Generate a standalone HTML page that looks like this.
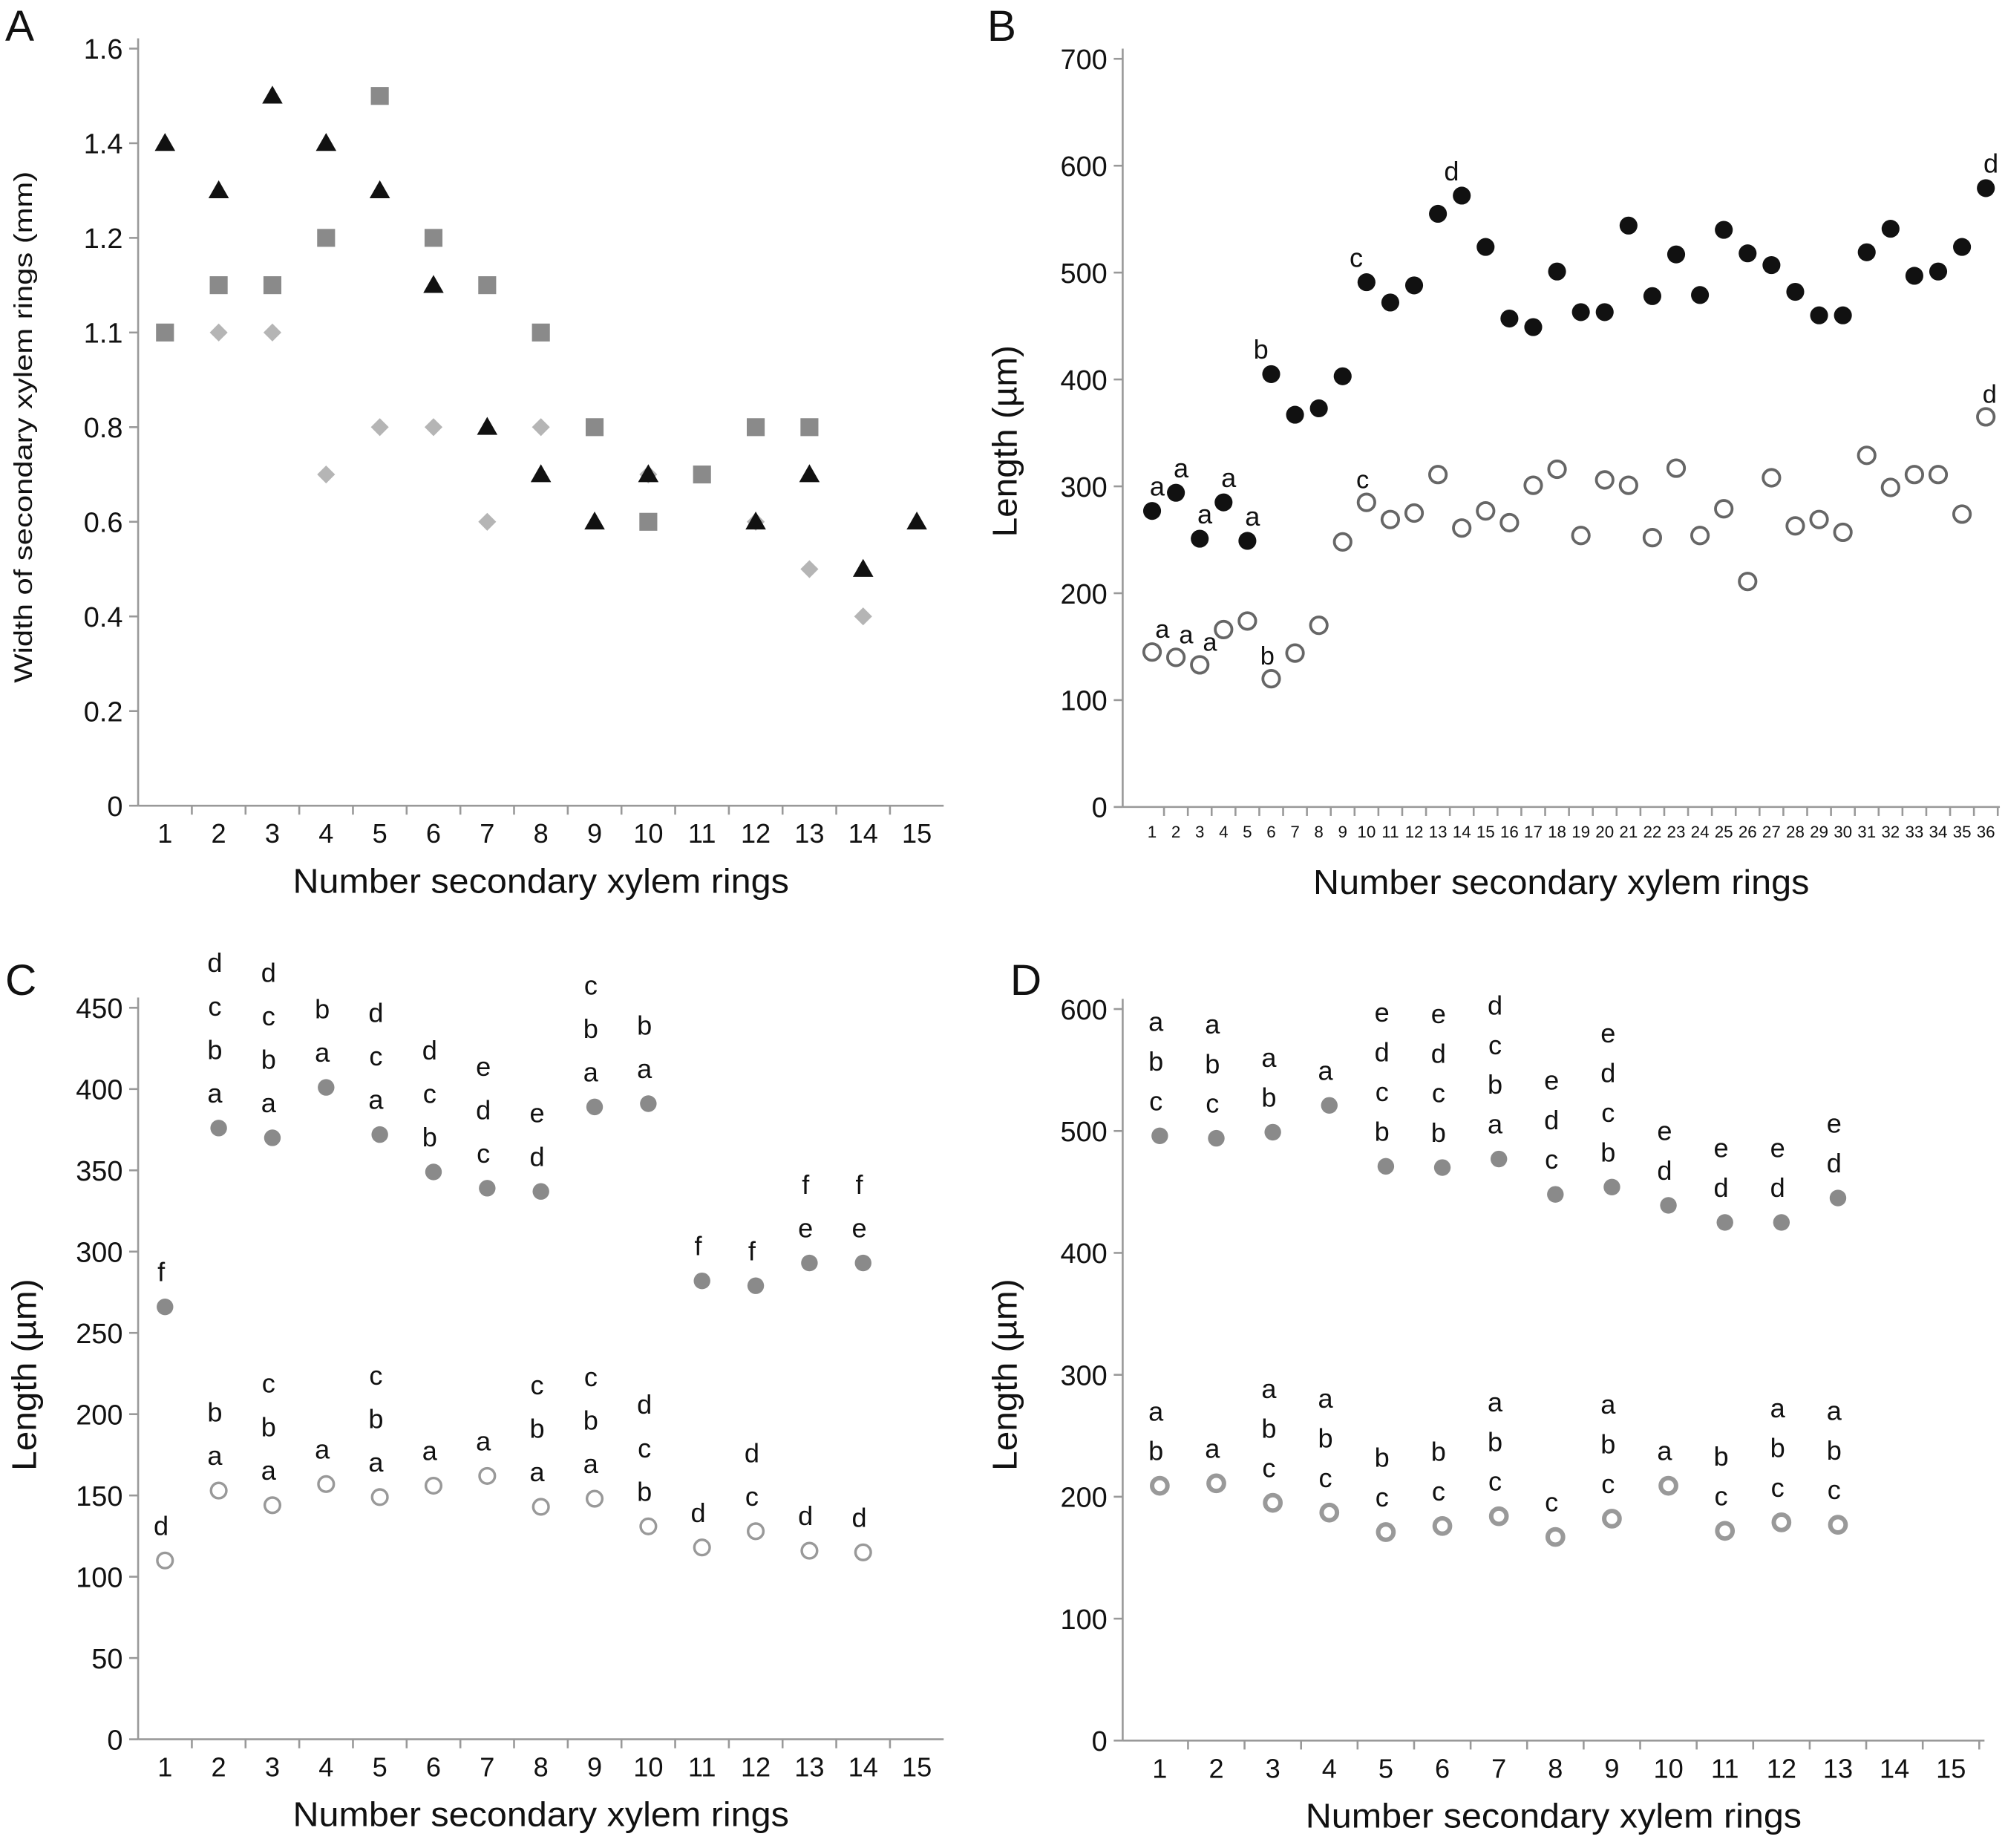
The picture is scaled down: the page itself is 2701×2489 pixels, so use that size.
<!DOCTYPE html>
<html><head><meta charset="utf-8">
<style>
html,body{margin:0;padding:0;background:#fff;}
svg{display:block;}
text{font-family:"Liberation Sans",Arial,sans-serif;}
</style></head>
<body>
<svg id="chart" width="2701" height="2489" viewBox="0 0 1568 1445" xmlns="http://www.w3.org/2000/svg"></svg>
<script>
// ---------- Panel A data ----------
const aCats = [1,2,3,4,5,6,7,8,9,10,11,12,13,14,15];
const aTickVals = [0,0.2,0.4,0.6,0.8,1.0,1.2,1.4,1.6];
const aTickLabels = ["0","0.2","0.4","0.6","0.8","1.1","1.2","1.4","1.6"];
const aTriangles = [1.4,1.3,1.5,1.4,1.3,1.1,0.8,0.7,0.6,0.7,null,0.6,0.7,0.5,0.6];
const aSquares = [1.0,1.1,1.1,1.2,1.5,1.2,1.1,1.0,0.8,0.6,0.7,0.8,0.8,null,null];
const aDiamonds = [null,1.0,1.0,0.7,0.8,0.8,0.6,0.8,null,0.7,null,0.6,0.5,0.4,null];
// ---------- Panel B data ----------
const bCats = Array.from({length:36},(_,i)=>i+1);
const bTicks = [0,100,200,300,400,500,600,700];
const bFilled = [277,294,251,285,249,405,367,373,403,491,472,488,555,572,524,457,449,501,463,463,544,478,517,479,540,518,507,482,460,460,519,541,497,501,524,579];
const bOpen = [145,140,133,166,174,120,144,170,248,285,269,275,311,261,277,266,301,316,254,306,301,252,317,254,279,211,308,263,269,257,329,299,311,311,274,365];
const bFilledLetters = {1:"a",2:"a",3:"a",4:"a",5:"a",6:"b",10:"c",14:"d",36:"d"};
const bOpenLetters = {1:"a",2:"a",3:"a",6:"b",10:"c",36:"d"};
// ---------- Panel C data ----------
const cCats = [1,2,3,4,5,6,7,8,9,10,11,12,13,14,15];
const cTicks = [0,50,100,150,200,250,300,350,400,450];
const cFilled = [266,376,370,401,372,349,339,337,389,391,282,279,293,293];
const cOpen = [110,153,144,157,149,156,162,143,148,131,118,128,116,115];
const cFilledLetters = [["f"],["d","c","b","a"],["d","c","b","a"],["b","a"],["d","c","a"],["d","c","b"],["e","d","c"],["e","d"],["c","b","a"],["b","a"],["f"],["f"],["f","e"],["f","e"]];
const cOpenLetters = [["d"],["b","a"],["c","b","a"],["a"],["c","b","a"],["a"],["a"],["c","b","a"],["c","b","a"],["d","c","b"],["d"],["d","c"],["d"],["d"]];
// ---------- Panel D data ----------
const dCats = [1,2,3,4,5,6,7,8,9,10,11,12,13,14,15];
const dTicks = [0,100,200,300,400,500,600];
const dFilled = [496,494,499,521,471,470,477,448,454,439,425,425,445];
const dOpen = [209,211,195,187,171,176,184,167,182,209,172,179,177];
const dFilledLetters = [["a","b","c"],["a","b","c"],["a","b"],["a"],["e","d","c","b"],["e","d","c","b"],["d","c","b","a"],["e","d","c"],["e","d","c","b"],["e","d"],["e","d"],["e","d"],["e","d"]];
const dOpenLetters = [["a","b"],["a"],["a","b","c"],["a","b","c"],["b","c"],["b","c"],["a","b","c"],["c"],["a","b","c"],["a"],["b","c"],["a","b","c"],["a","b","c"]];

const NS="http://www.w3.org/2000/svg";
const svg=document.getElementById('chart');
function mk(tag,attrs,parent){const e=document.createElementNS(NS,tag);for(const k in attrs)e.setAttribute(k,attrs[k]);(parent||svg).appendChild(e);return e;}
function txt(s,x,y,size,parent,anchor){const t=mk('text',{x:x,y:y,'font-size':size,'text-anchor':anchor||'middle',fill:'#111'},parent);t.textContent=s;return t;}

function panel(cfg){
  const g=mk('g',{});
  
  
  const yS=v=>cfg.y0-(v-cfg.vmin)/(cfg.vmax-cfg.vmin)*(cfg.y0-cfg.y1);
  const xS=c=>cfg.xFirst+(c-1)*cfg.xStep;
  const ax=mk('line',{x1:cfg.ax,y1:cfg.y1-8,x2:cfg.ax,y2:cfg.y0,stroke:'#999','stroke-width':1.5},g);
  
  
  const bx=mk('line',{x1:cfg.ax,y1:cfg.y0,x2:cfg.axEnd,y2:cfg.y0,stroke:'#999','stroke-width':1.5},g);
  
  
  cfg.ticks.forEach((v,i)=>{
    const y=yS(v);
    mk('line',{x1:cfg.ax-7,y1:y,x2:cfg.ax,y2:y,stroke:'#999','stroke-width':1.5},g);
    const t=txt(cfg.tickLabels?cfg.tickLabels[i]:String(v),cfg.ax-12,y+8,22,g,'end');
    
    
  });
  cfg.cats.forEach(c=>{
    const x=xS(c);
    const t=txt(String(c),x,cfg.y0+(cfg.xFont>15?29:24),cfg.xFont,g);
    
    
    const tx=x+cfg.xStep/2;
    if(tx<cfg.axEnd) mk('line',{x1:tx,y1:cfg.y0,x2:tx,y2:cfg.y0+7,stroke:'#999','stroke-width':1.5},g);
  });
  const xt=txt('Number secondary xylem rings',(cfg.ax+cfg.axEnd)/2,cfg.y0+68,27,g);
  xt.setAttribute('textLength','388');
  xt.setAttribute('lengthAdjust','spacingAndGlyphs');
  
  
  const yt=txt(cfg.ytitle,0,0,cfg.ytFont,g);
  yt.setAttribute('transform',`translate(${cfg.ytX},${cfg.ytY}) rotate(-90)`);
  yt.setAttribute('textLength',String(cfg.ytLen));
  yt.setAttribute('lengthAdjust','spacingAndGlyphs');
  
  
  const pl=txt(cfg.letter,cfg.lx,cfg.ly,34,g,'start');
  
  
  return {g,xS,yS};
}

// Panel A
(function(){
  const p=panel({name:'panel-a',ax:108,axEnd:738,y0:630,y1:38,vmin:0,vmax:1.6,ticks:aTickVals,tickLabels:aTickLabels,cats:aCats,xFirst:129,xStep:42,xFont:21,ytitle:'Width of secondary xylem rings (mm)',ytFont:20,ytX:25,ytY:334,ytLen:400,letter:'A',lx:4,ly:32});
  aSquares.forEach((v,i)=>{if(v==null)return;const x=p.xS(aCats[i]),y=p.yS(v);
    const r=mk('rect',{x:x-7,y:y-7,width:14,height:14,fill:'#8a8a8a'},p.g);
    
    });
  aDiamonds.forEach((v,i)=>{if(v==null)return;const x=p.xS(aCats[i]),y=p.yS(v);
    const r=mk('polygon',{points:`${x},${y-7} ${x+7},${y} ${x},${y+7} ${x-7},${y}`,fill:'#b5b5b5'},p.g);
    
    });
  aTriangles.forEach((v,i)=>{if(v==null)return;const x=p.xS(aCats[i]),y=p.yS(v);
    const r=mk('polygon',{points:`${x},${y-8} ${x+8},${y+6} ${x-8},${y+6}`,fill:'#111'},p.g);
    
    });
})();

// Panel B
(function(){
  const p=panel({name:'panel-b',ax:878,axEnd:1564,y0:631,y1:46,vmin:0,vmax:700,ticks:bTicks,cats:bCats,xFirst:901,xStep:18.63,xFont:13,ytitle:'Length (µm)',ytFont:27,ytX:795,ytY:345,ytLen:150,letter:'B',lx:772,ly:32});
  bOpen.forEach((v,i)=>{const x=p.xS(bCats[i]),y=p.yS(v);
    const c=mk('circle',{cx:x,cy:y,r:6.5,fill:'#fff',stroke:'#666','stroke-width':2.2},p.g);
    
    
    const L=bOpenLetters[bCats[i]]; if(L){const t=txt(L,x+(bCats[i]==36?3:(i<3?8:-3)),y-11,20,p.g);
      
      }});
  bFilled.forEach((v,i)=>{const x=p.xS(bCats[i]),y=p.yS(v);
    const c=mk('circle',{cx:x,cy:y,r:7,fill:'#111'},p.g);
    
    
    const L=bFilledLetters[bCats[i]]; if(L){const t=txt(L,x+(bCats[i]==36?4:(i<5?4:-8)),y-12,21,p.g);
      
      }});
})();

function lettered(p,vals,lettersArr,cats,filled,spacing,nameStem){
  vals.forEach((v,i)=>{const x=p.xS(cats[i]),y=p.yS(v);
    let c;
    if(filled){c=mk('circle',{cx:x,cy:y,r:6.5,fill:'#8a8a8a'},p.g);}
    else c=mk('circle',{cx:x,cy:y,r:6,fill:'#fff',stroke:'#999','stroke-width':nameStem==='d'?3.5:2},p.g);
    
    
    const L=lettersArr[i]; const n=L.length;
    L.forEach((s,k)=>{const t=txt(s,x-3,y-20-(n-1-k)*spacing,21,p.g);
      
      });
  });
}

// Panel C
(function(){
  const p=panel({name:'panel-c',ax:108,axEnd:738,y0:1360,y1:788,vmin:0,vmax:450,ticks:cTicks,cats:cCats,xFirst:129,xStep:42,xFont:21,ytitle:'Length (µm)',ytFont:27,ytX:28,ytY:1075,ytLen:150,letter:'C',lx:4,ly:778});
  lettered(p,cFilled,cFilledLetters,cCats,true,34,'c');
  lettered(p,cOpen,cOpenLetters,cCats,false,34,'c');
})();

// Panel D
(function(){
  const p=panel({name:'panel-d',ax:878,axEnd:1552,y0:1361,y1:789,vmin:0,vmax:600,ticks:dTicks,cats:dCats,xFirst:907,xStep:44.2,xFont:21,ytitle:'Length (µm)',ytFont:27,ytX:795,ytY:1075,ytLen:150,letter:'D',lx:790,ly:778});
  lettered(p,dFilled,dFilledLetters,dCats,true,31,'d');
  lettered(p,dOpen,dOpenLetters,dCats,false,31,'d');
})();
</script>
</body></html>
